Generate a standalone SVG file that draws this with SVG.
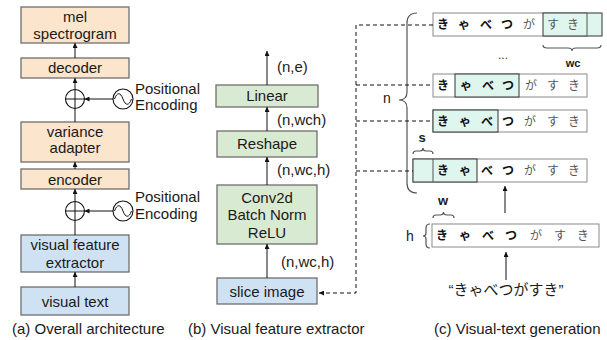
<svg xmlns="http://www.w3.org/2000/svg" width="607" height="340" viewBox="0 0 607 340">
  <defs>
    <marker id="arrow" viewBox="0 0 6 6" refX="6" refY="3" markerWidth="5" markerHeight="5" markerUnits="userSpaceOnUse" orient="auto">
      <path d="M0,0 L6,3 L0,6 z" fill="#111"/>
    </marker>
    <style>
      text { font-family: "Liberation Sans", Arial, "Noto Sans CJK JP", sans-serif; fill: #1a1a1a; }
      .lbl { font-size: 15px; text-anchor: middle; }
      .dim { font-size: 15px; }
      .cap { font-size: 15px; }
      .orange { fill: #fce5cd; stroke: #6f6f6f; stroke-width: 1.3; }
      .blue { fill: #cfe2f3; stroke: #6f6f6f; stroke-width: 1.3; }
      .green { fill: #d9ead3; stroke: #6f6f6f; stroke-width: 1.3; }
      .flow { stroke: #111; stroke-width: 1; fill: none; }
      .dash { stroke: #111; stroke-width: 1; fill: none; stroke-dasharray: 4 3; }
      .ring { fill: #fff; stroke: #111; stroke-width: 1.1; }
      .row { fill: #fff; stroke: #8a8a8a; stroke-width: 1; }
      .hl { fill: #dff6ee; stroke: #333; stroke-width: 1; }
      .brace { fill: none; stroke: #555; stroke-width: 1.2; }
      .jp { font-family: "Noto Sans CJK JP", sans-serif; font-size: 12px; text-anchor: middle; }
      .jb { font-weight: bold; fill: #111; }
      .jl { fill: #555; }
      .small { font-size: 13px; text-anchor: middle; }
    </style>
  </defs>

  <!-- (a) overall architecture -->
  <g id="mel-spectrogram">
    <rect class="orange" x="21" y="7" width="108" height="36"/>
    <text class="lbl" x="75" y="22">mel</text>
    <text class="lbl" x="75" y="38.5">spectrogram</text>
  </g>
  <g id="decoder">
    <rect class="orange" x="21" y="58" width="108" height="20"/>
    <text class="lbl" x="75" y="73">decoder</text>
  </g>
  <g id="add-pe-decoder">
    <circle class="ring" cx="75" cy="99" r="9.5"/>
    <path class="flow" d="M65.5,99 H84.5 M75,89.5 V108.5"/>
  </g>
  <g id="pe-decoder">
    <circle class="ring" cx="123" cy="99" r="10"/>
    <path class="flow" d="M114.5,99 C117,92 120.5,92 123,99 C125.5,106 129,106 131.5,99"/>
    <text class="dim" x="135" y="94">Positional</text>
    <text class="dim" x="135" y="110">Encoding</text>
  </g>
  <g id="variance-adapter">
    <rect class="orange" x="21" y="122" width="108" height="40"/>
    <text class="lbl" x="75" y="137">variance</text>
    <text class="lbl" x="75" y="153">adapter</text>
  </g>
  <g id="encoder">
    <rect class="orange" x="21" y="169" width="108" height="20"/>
    <text class="lbl" x="75" y="185">encoder</text>
  </g>
  <g id="add-pe-encoder">
    <circle class="ring" cx="75" cy="211" r="9.5"/>
    <path class="flow" d="M65.5,211 H84.5 M75,201.5 V220.5"/>
  </g>
  <g id="pe-encoder">
    <circle class="ring" cx="123" cy="211" r="10"/>
    <path class="flow" d="M114.5,211 C117,204 120.5,204 123,211 C125.5,218 129,218 131.5,211"/>
    <text class="dim" x="135" y="202">Positional</text>
    <text class="dim" x="135" y="219">Encoding</text>
  </g>
  <g id="visual-feature-extractor">
    <rect class="blue" x="21" y="235" width="108" height="37"/>
    <text class="lbl" x="75" y="250">visual feature</text>
    <text class="lbl" x="75" y="268">extractor</text>
  </g>
  <g id="visual-text">
    <rect class="blue" x="21" y="287" width="108" height="28"/>
    <text class="lbl" x="75" y="307">visual text</text>
  </g>

  <!-- (b) visual feature extractor -->
  <g id="linear">
    <rect class="green" x="216" y="85" width="102" height="22"/>
    <text class="lbl" x="267" y="101">Linear</text>
  </g>
  <g id="reshape">
    <rect class="green" x="217" y="131" width="100" height="26"/>
    <text class="lbl" x="267" y="149">Reshape</text>
  </g>
  <g id="conv-block">
    <rect class="green" x="217" y="185" width="100" height="59"/>
    <text class="lbl" x="267" y="203">Conv2d</text>
    <text class="lbl" x="267" y="220">Batch Norm</text>
    <text class="lbl" x="267" y="238">ReLU</text>
  </g>
  <g id="slice-image">
    <rect class="blue" x="217" y="278" width="100" height="26"/>
    <text class="lbl" x="267" y="297">slice image</text>
  </g>
  <g id="shape-labels">
    <text class="dim" x="277" y="72">(n,e)</text>
    <text class="dim" x="277" y="125">(n,wch)</text>
    <text class="dim" x="277" y="175">(n,wc,h)</text>
    <text class="dim" x="281" y="267">(n,wc,h)</text>
  </g>

  <!-- (c) visual-text generation -->
  <g id="slice-last">
    <rect class="row" x="433" y="13" width="154" height="23"/>
    <rect class="hl" x="543" y="13" width="59" height="23"/>
    <line x1="587" y1="13" x2="587" y2="36" stroke="#555" stroke-width="1"/>
    <text class="jp jb" x="443" y="29">き</text>
    <text class="jp jb" x="464" y="29">ゃ</text>
    <text class="jp jb" x="486" y="29">べ</text>
    <text class="jp jb" x="507" y="29">つ</text>
    <text class="jp jl" x="529" y="29">が</text>
    <text class="jp jl" x="553" y="29">す</text>
    <text class="jp jl" x="573" y="29">き</text>
    <path class="brace" d="M543,45 Q543,48 547,48 L568,48 Q572,48 572,51 Q572,48 576,48 L597,48 Q601,48 601,45"/>
    <text class="small" x="573" y="67" style="font-size:11px;font-weight:bold">wc</text>
    <text x="503" y="59" style="font-size:12px;text-anchor:middle;fill:#444">...</text>
  </g>
  <g id="slice-middle">
    <rect class="row" x="433" y="74" width="154" height="23"/>
    <rect class="hl" x="455" y="74" width="64" height="23"/>
    <text class="jp jb" x="443" y="90">き</text>
    <text class="jp jb" x="466" y="90">ゃ</text>
    <text class="jp jb" x="488" y="90">べ</text>
    <text class="jp jb" x="508" y="90">つ</text>
    <text class="jp jl" x="531" y="90">が</text>
    <text class="jp jl" x="553" y="90">す</text>
    <text class="jp jl" x="574" y="90">き</text>
  </g>
  <g id="slice-second">
    <rect class="row" x="433" y="110" width="154" height="22"/>
    <rect class="hl" x="433" y="110" width="65" height="22"/>
    <text class="jp jb" x="443" y="125.5">き</text>
    <text class="jp jb" x="465" y="125.5">ゃ</text>
    <text class="jp jb" x="487" y="125.5">べ</text>
    <text class="jp jb" x="508" y="125.5">つ</text>
    <text class="jp jl" x="530" y="125.5">が</text>
    <text class="jp jl" x="553" y="125.5">す</text>
    <text class="jp jl" x="574" y="125.5">き</text>
  </g>
  <g id="slice-first">
    <rect class="row" x="413" y="159" width="174" height="23"/>
    <rect class="hl" x="413" y="159" width="64" height="23"/>
    <line x1="433" y1="159" x2="433" y2="182" stroke="#555" stroke-width="1"/>
    <text class="jp jb" x="443" y="175">き</text>
    <text class="jp jb" x="465" y="175">ゃ</text>
    <text class="jp jb" x="487" y="175">べ</text>
    <text class="jp jb" x="508" y="175">つ</text>
    <text class="jp jl" x="530" y="175">が</text>
    <text class="jp jl" x="553" y="175">す</text>
    <text class="jp jl" x="574" y="175">き</text>
    <path class="brace" d="M413,154 Q413,151 416,151 L420,151 Q423,151 423,148 Q423,151 426,151 L430,151 Q433,151 433,154"/>
    <text class="small" x="422" y="142" style="font-weight:bold">s</text>
  </g>
  <g id="slice-brace">
    <path class="brace" d="M417,13 Q407,13 407,23 L407,92 Q407,100 399,100 Q407,100 407,108 L407,183 Q407,193 417,193"/>
    <text class="small" x="387" y="103" style="font-size:14px">n</text>
  </g>
  <g id="rendered-text">
    <rect class="row" x="432" y="224" width="167" height="23"/>
    <text class="jp jb" x="442" y="240">き</text>
    <text class="jp jb" x="465" y="240">ゃ</text>
    <text class="jp jb" x="488" y="240">べ</text>
    <text class="jp jb" x="511" y="240">つ</text>
    <text class="jp jl" x="536" y="240">が</text>
    <text class="jp jl" x="560" y="240">す</text>
    <text class="jp jl" x="583" y="240">き</text>
    <path class="brace" d="M433,218 Q433,215 436,215 L440,215 Q443.5,215 443.5,212 Q443.5,215 447,215 L451,215 Q454,215 454,218"/>
    <text class="small" x="443" y="205" style="font-weight:bold">w</text>
    <path class="brace" d="M430,224 Q426,224 426,228 L426,233 Q426,236 423,236 Q426,236 426,239 L426,244 Q426,248 430,248"/>
    <text class="small" x="410" y="241" style="font-size:14px">h</text>
  </g>
  <g id="input-string">
    <text x="506" y="295" style="font-size:15px;text-anchor:middle">“きゃべつがすき”</text>
  </g>

  <!-- connectors -->
  <g id="connectors">
    <line class="flow" x1="75" y1="287" x2="75" y2="272" marker-end="url(#arrow)"/>
    <line class="flow" x1="75" y1="235" x2="75" y2="220.5"/>
    <line class="flow" x1="75" y1="201.5" x2="75" y2="189" marker-end="url(#arrow)"/>
    <line class="flow" x1="113" y1="211" x2="84.5" y2="211" marker-end="url(#arrow)"/>
    <line class="flow" x1="75" y1="169" x2="75" y2="162" marker-end="url(#arrow)"/>
    <line class="flow" x1="75" y1="122" x2="75" y2="108.5"/>
    <line class="flow" x1="75" y1="89.5" x2="75" y2="78" marker-end="url(#arrow)"/>
    <line class="flow" x1="113" y1="99" x2="84.5" y2="99" marker-end="url(#arrow)"/>
    <line class="flow" x1="75" y1="58" x2="75" y2="43" marker-end="url(#arrow)"/>

    <line class="flow" x1="267" y1="278" x2="267" y2="244" marker-end="url(#arrow)"/>
    <line class="flow" x1="267" y1="185" x2="267" y2="157" marker-end="url(#arrow)"/>
    <line class="flow" x1="267" y1="131" x2="267" y2="107" marker-end="url(#arrow)"/>
    <line class="flow" x1="267" y1="85" x2="267" y2="51" marker-end="url(#arrow)"/>

    <path class="dash" d="M433,25 H356 V293 H319" marker-end="url(#arrow)"/>
    <path class="dash" d="M356,85 H433"/>
    <path class="dash" d="M356,121 H433"/>
    <path class="dash" d="M356,171 H413"/>

    <line class="flow" x1="506" y1="280" x2="506" y2="252" marker-end="url(#arrow)"/>
    <line class="flow" x1="505" y1="213" x2="505" y2="186" marker-end="url(#arrow)"/>
  </g>

  <!-- captions -->
  <text class="cap" x="12" y="334">(a)  Overall architecture</text>
  <text class="cap" x="188" y="334">(b)  Visual feature extractor</text>
  <text class="cap" x="434" y="334">(c) Visual-text generation</text>
</svg>
